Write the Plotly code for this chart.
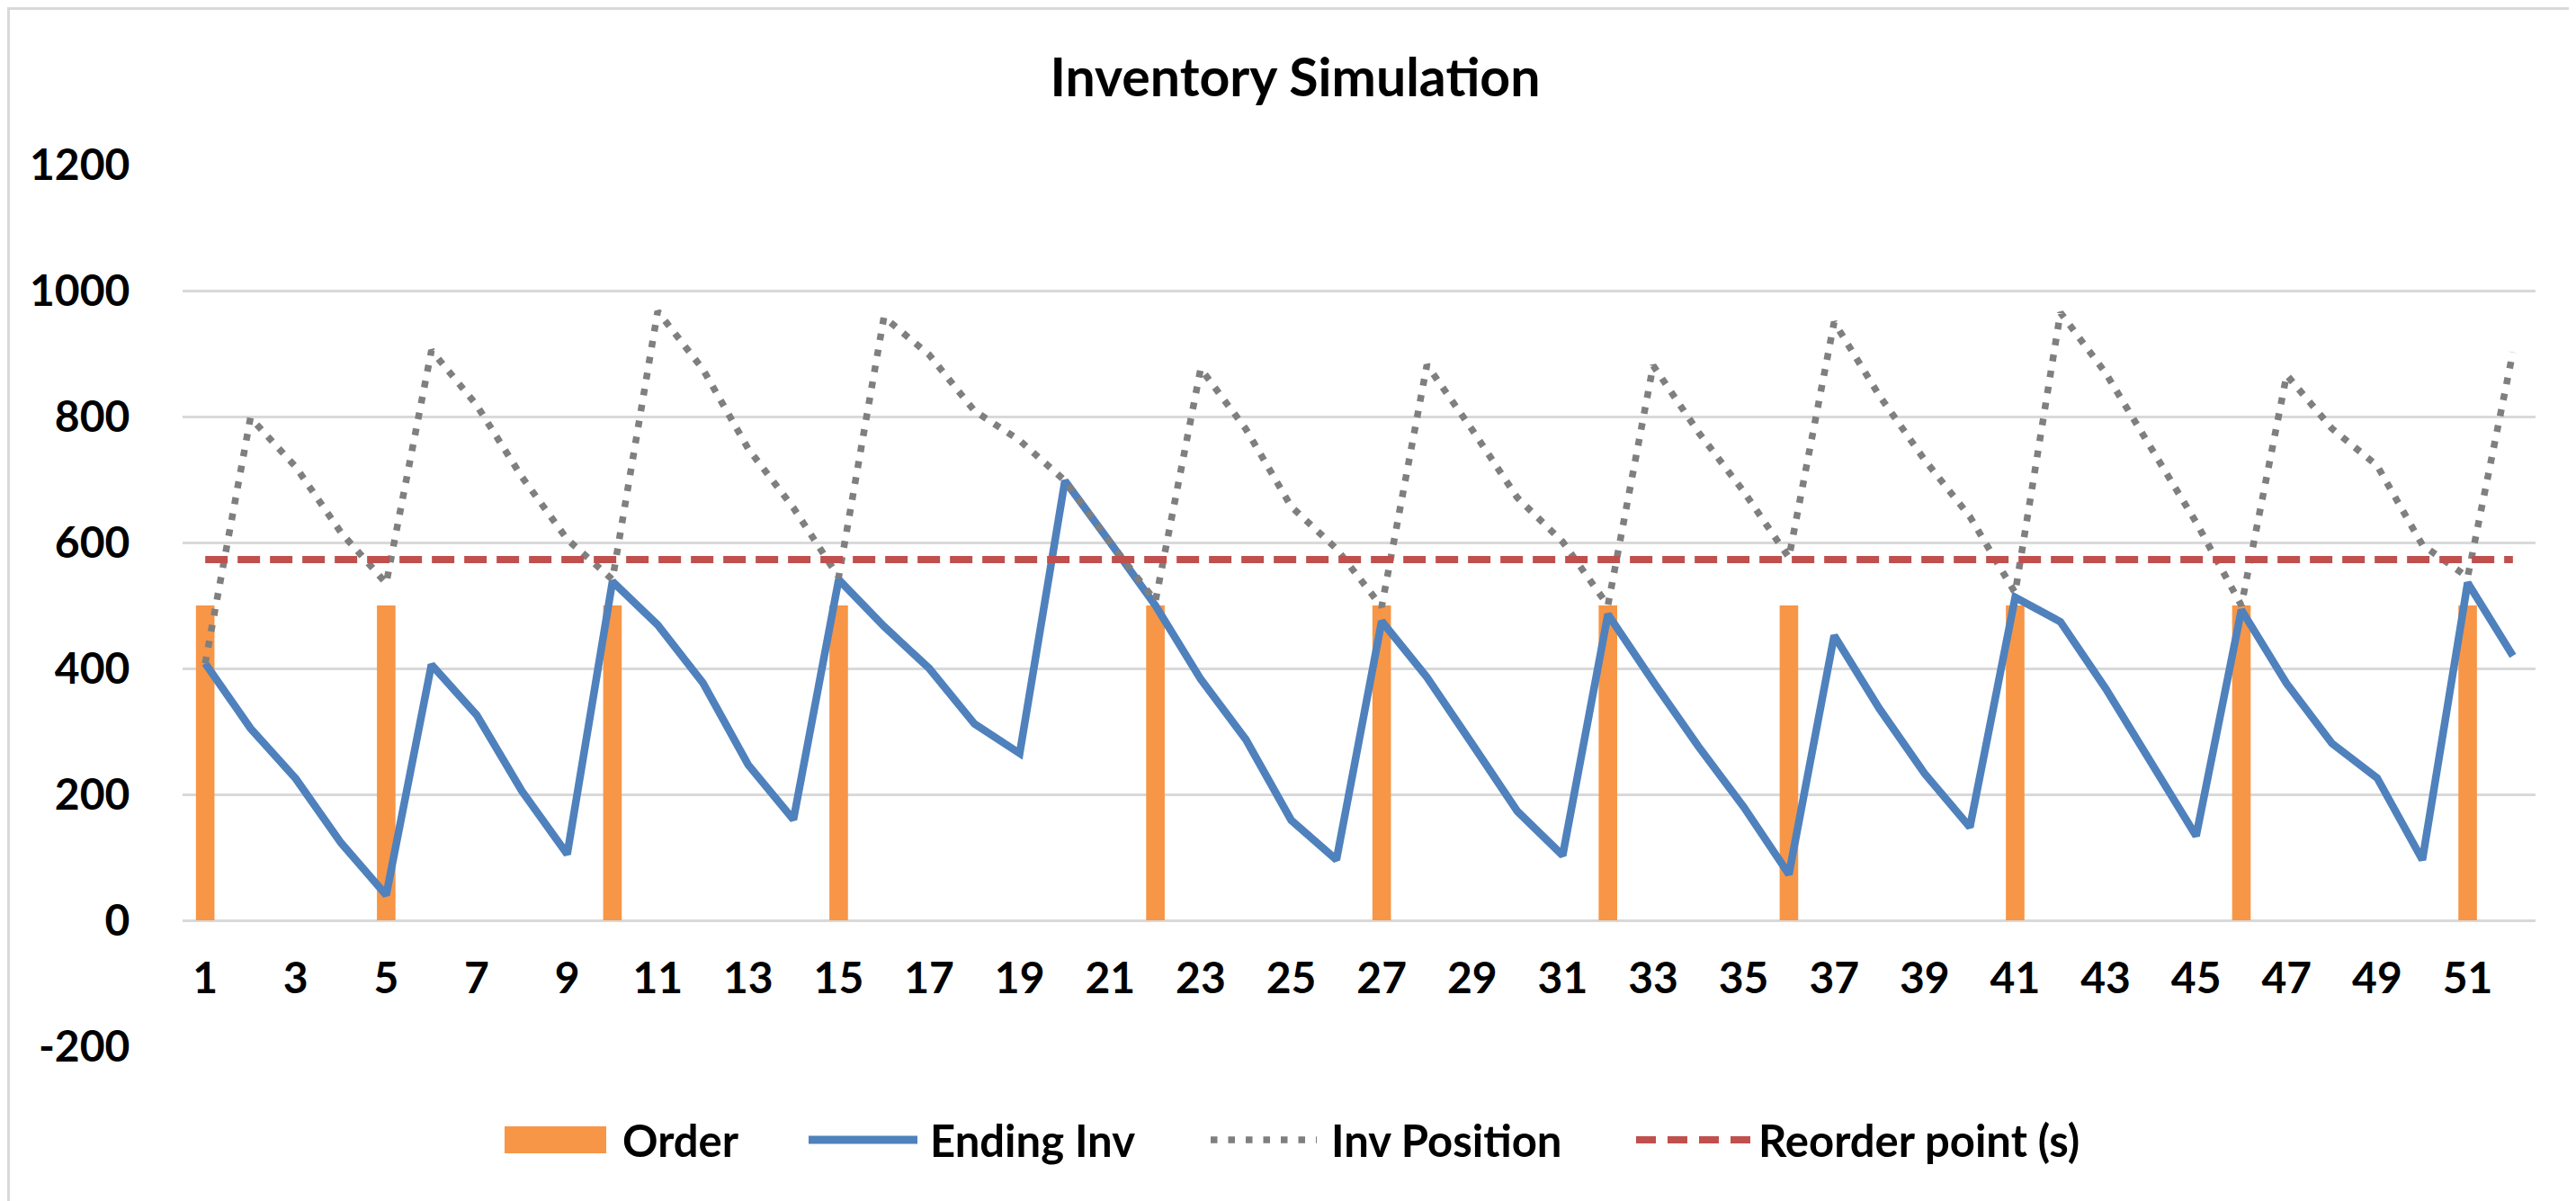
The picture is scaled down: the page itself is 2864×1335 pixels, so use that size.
import plotly.graph_objects as go

# ---------------- data ----------------
periods = list(range(1, 53))
tick_vals = [1, 3, 5, 7, 9, 11, 13, 15, 17, 19, 21, 23, 25, 27, 29, 31, 33, 35, 37, 39, 41, 43, 45, 47, 49, 51]
tick_labels = ["1", "3", "5", "7", "9", "11", "13", "15", "17", "19", "21", "23", "25",
               "27", "29", "31", "33", "35", "37", "39", "41", "43", "45", "47", "49", "51"]

order = [500, 0, 0, 0, 500, 0, 0, 0, 0, 500,
         0, 0, 0, 0, 500, 0, 0, 0, 0, 0,
         0, 500, 0, 0, 0, 0, 500, 0, 0, 0,
         0, 500, 0, 0, 0, 500, 0, 0, 0, 0,
         500, 0, 0, 0, 0, 500, 0, 0, 0, 0,
         500, 0]

ending_inv = [408, 305, 225, 123, 40, 406, 326, 205, 105, 538,
              469, 377, 247, 160, 541, 467, 400, 312, 265, 698,
              600, 500, 383, 287, 159, 96, 475, 386, 280, 173,
              103, 486, 379, 276, 180, 73, 452, 336, 233, 148,
              513, 474, 368, 251, 134, 493, 376, 281, 226, 96,
              536, 420]

inv_position = [408, 798, 720, 616, 535, 905, 818, 704, 605, 541,
                967, 875, 749, 655, 545, 958, 898, 809, 762, 698,
                600, 507, 876, 780, 657, 590, 498, 882, 779, 671,
                601, 500, 881, 775, 681, 576, 950, 833, 731, 641,
                520, 965, 869, 752, 632, 500, 866, 781, 722, 596,
                545, 902]

reorder_point = 573

series_names = ["Order", "Ending Inv", "Inv Position", "Reorder point (s)"]
y_ticks = [-200, 0, 200, 400, 600, 800, 1000, 1200]
y_tick_labels = ["-200", "0", "200", "400", "600", "800", "1000", "1200"]

# ---------------- styling ----------------
ORANGE = "#F79646"
BLUE = "#4F81BD"
GRAY = "#7F7F7F"
RED = "#C0504D"
GRID = "#D9D9D9"
FONT = "Lato"

W, H = 2864, 1335
L, R, T, B = 195, 53, 175, 180
PW, PH = W - L - R, H - T - B


def px(x):
    return (x - L) / PW


def py(y):
    return (H - B - y) / PH


fig = go.Figure()

fig.add_trace(go.Bar(x=periods, y=order, name=series_names[0],
                     marker=dict(color=ORANGE, line=dict(width=0))))
fig.add_trace(go.Scatter(x=periods, y=ending_inv, name=series_names[1], mode="lines",
                         line=dict(color=BLUE, width=8.5)))
fig.add_trace(go.Scatter(x=periods, y=inv_position, name=series_names[2], mode="lines",
                         line=dict(color=GRAY, width=7.5, dash="7.5px,10.5px")))
fig.add_trace(go.Scatter(x=periods, y=[reorder_point for _ in periods], name=series_names[3],
                         mode="lines", line=dict(color=RED, width=8, dash="25px,11px")))

# ---------------- custom legend ----------------
shapes = []
annotations = []
leg_y = 1259
shapes.append(dict(type="rect", xref="paper", yref="paper",
                   x0=px(553), x1=px(666), y0=py(1274), y1=py(1244),
                   fillcolor=ORANGE, line=dict(width=0)))
shapes.append(dict(type="line", xref="paper", yref="paper",
                   x0=px(891), x1=px(1012), y0=py(leg_y), y1=py(leg_y),
                   line=dict(color=BLUE, width=9)))
shapes.append(dict(type="line", xref="paper", yref="paper",
                   x0=px(1338), x1=px(1456), y0=py(leg_y), y1=py(leg_y),
                   line=dict(color=GRAY, width=7.5, dash="7.5px,12px")))
shapes.append(dict(type="line", xref="paper", yref="paper",
                   x0=px(1811), x1=px(1939), y0=py(leg_y), y1=py(leg_y),
                   line=dict(color=RED, width=8, dash="22px,13px")))
for name, x0 in zip(series_names, [682, 1024, 1470, 1945]):
    annotations.append(dict(text=name, xref="paper", yref="paper", x=px(x0), y=py(leg_y),
                            xanchor="left", yanchor="middle", showarrow=False,
                            font=dict(family=FONT, size=49, color="black", weight="bold")))

# chart border
shapes.append(dict(type="rect", xref="paper", yref="paper", layer="below",
                   x0=px(1.5), x1=px(W - 1.5), y0=py(H - 1.5), y1=py(1.5),
                   line=dict(color=GRID, width=3), fillcolor="rgba(0,0,0,0)"))

fig.update_layout(
    width=W, height=H,
    margin=dict(l=L, r=R, t=T, b=B),
    paper_bgcolor="white", plot_bgcolor="white",
    showlegend=False,
    bargap=0.59,
    title=dict(text="Inventory Simulation", x=0.5, xref="container", xanchor="center",
               y=1 - 78 / H, yref="container", yanchor="middle",
               font=dict(family=FONT, size=59, color="black", weight="bold")),
    font=dict(family=FONT, color="black"),
    shapes=shapes,
    annotations=annotations,
)

fig.update_xaxes(range=[0.5, 52.5], tickvals=tick_vals, ticktext=tick_labels,
                 showgrid=False, zeroline=False, showline=False,
                 anchor="free", position=200 / 1400,
                 ticks="outside", ticklen=22, tickcolor="rgba(0,0,0,0)",
                 tickfont=dict(family=FONT, size=48, color="black", weight="bold"))
fig.update_yaxes(range=[-200, 1200], tickvals=y_ticks, ticktext=y_tick_labels,
                 showgrid=True, gridcolor=GRID, gridwidth=3,
                 zeroline=False, showline=False,
                 ticks="outside", ticklen=48, tickcolor="rgba(0,0,0,0)",
                 tickfont=dict(family=FONT, size=48, color="black", weight="bold"))

fig.write_html("out.html")
